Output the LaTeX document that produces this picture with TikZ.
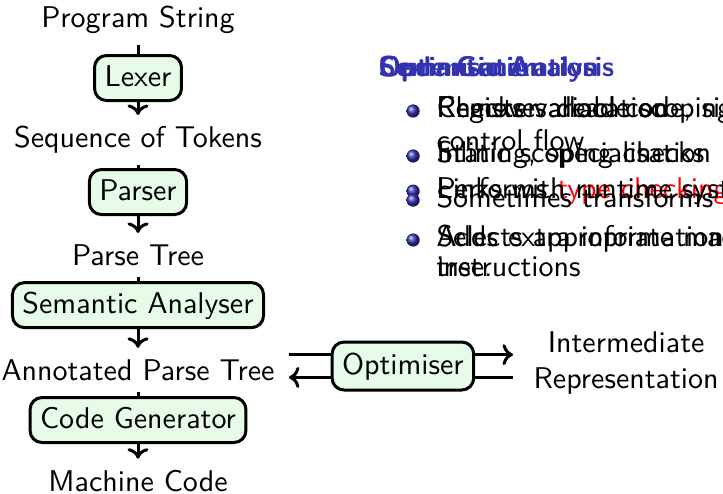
\documentclass[tikz,border=0pt]{standalone}
\usepackage{fontspec}
\usetikzlibrary{calc,arrows.meta}
\renewcommand{\familydefault}{\sfdefault}

\begin{document}
\begin{tikzpicture}[x=10pt,y=10pt,line width=1pt,>={To[width=7pt,length=3.5pt]},stage/.style={
      rectangle,
      rounded corners=4pt,
      fill=lgreen,
      draw=black,
      minimum height=15pt,
      text height=1.5ex,
      text depth=.25ex
    },txt/.style={anchor=base west,inner sep=0pt},bul/.style={circle,inner sep=0pt,minimum size=4.4pt,ball color=sblue}]
\definecolor{lgreen}{RGB}{230,252,230}
\definecolor{sblue}{RGB}{51,51,178}

\useasboundingbox (0,0) rectangle (24.1,-16.433);

% the pipeline
\node (ps) at (4.6,-0.65) {Program String};
\node[stage] (lx) at (4.6,-2.6) {Lexer};
\node (sot) at (4.6,-4.67) {Sequence of Tokens};
\node[stage] (pa) at (4.6,-6.4) {Parser};
\node (pt) at (4.6,-8.5) {Parse Tree};
\node[stage] (sa) at (4.6,-10.17) {Semantic Analyser};
\node (apt) at (4.6,-12.33) {Annotated Parse Tree};
\node[stage] (cg) at (4.6,-14) {Code Generator};
\node (mc) at (4.6,-16.03) {Machine Code};

\draw (ps) -- (lx);
\draw[->] (lx) -- (sot);
\draw (sot) -- (pa);
\draw[->] (pa) -- (pt);
\draw (pt) -- (sa);
\draw[->] (sa) -- (apt);
\draw (apt) -- (cg);
\draw[->] (cg) -- (mc);

% optimiser loop
\node[stage,minimum height=16pt] (op) at (13.43,-12.2) {Optimiser};
\node[align=center] (ir) at (20.87,-12.1) {Intermediate\\Representation};

\coordinate (otl) at ([yshift=3.8pt]op.west);
\coordinate (otr) at ([yshift=3.8pt]op.east);
\coordinate (obl) at ([yshift=-3.8pt]op.west);
\coordinate (obr) at ([yshift=-3.8pt]op.east);
\draw[shorten <=1pt] (apt.east |- otl) -- (otl);
\draw[->,shorten >=3pt] (otr) -- (otr -| ir.west);
\draw[shorten <=3pt] (obr -| ir.west) -- (obr);
\draw[->,shorten >=1pt] (obl) -- (apt.east |- obl);

% overlaid slide text
\node[txt,text=sblue,font=\fontsize{9.5}{11}\selectfont\bfseries] (h1) at (12.57,-2.55) {Semantic Analysis};
\node[txt,text=sblue,font=\fontsize{9.5}{11}\selectfont\bfseries] (h2) at (12.57,-2.55) {Optimisation};
\node[txt,text=sblue,font=\fontsize{9.5}{11}\selectfont\bfseries] (h3) at (12.57,-2.55) {Code Generation};

\node[bul] (b1) at (13.77,-3.7) {};
\node[txt] (a1) at (14.5,-3.9) {Checks variable scoping};
\node[txt] (a2) at (14.5,-3.9) {Register allocation};
\node[txt] (a3) at (14.5,-3.9) {Removes dead code, simplifies};
\node[txt] (a4) at (14.5,-5.0) {control flow};

\node[bul] (b2) at (13.77,-5.2) {};
\node[txt] (c1) at (14.5,-5.4) {Inlining, specialisation};
\node[txt] (c2) at (14.5,-5.4) {Static scoping checks};

\node[bul] (b3) at (13.77,-6.37) {};
\node[txt] (d1) at (14.5,-6.6) {Performs \textcolor{red}{type checking} (e.g.};
\node[txt] (d2) at (14.5,-6.6) {Links with runtime system};
\node[bul] (b4) at (13.77,-6.67) {};
\node[txt] (d3) at (14.5,-6.9) {Sometimes transforms tree};

\node[bul] (b5) at (13.77,-8.0) {};
\node[txt] (e1) at (14.5,-8.23) {Selects appropriate machine};
\node[txt] (e2) at (14.5,-8.23) {Adds extra information to};
\node[txt] (e3) at (14.5,-9.23) {instructions};
\node[txt] (e4) at (14.5,-9.23) {tree.};

\end{tikzpicture}
\end{document}
